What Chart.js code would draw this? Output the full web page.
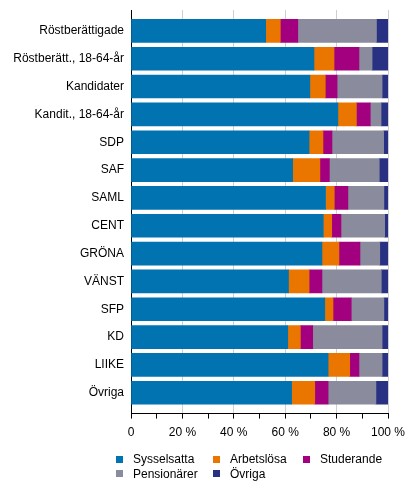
<!DOCTYPE html>
<html>
<head>
<meta charset="utf-8">
<script src="https://cdn.jsdelivr.net/npm/chart.js@4/dist/chart.umd.min.js"></script>
<style>
  html, body { margin: 0; padding: 0; background: #fff; }
  #wrap { position: relative; width: 416px; height: 491px; }
  #legend {
    position: absolute; left: 116px; top: 452px;
    display: grid; grid-template-columns: 97px 90px 90px; row-gap: 0;
    font: 12px "Liberation Sans", Arial, sans-serif; color: #000;
  }
  #legend .item { display: flex; align-items: center; height: 14.5px; }
  #legend .box { width: 7px; height: 7px; margin-right: 10px; }
</style>
</head>
<body>
<div id="wrap">
  <canvas id="grafico" width="416" height="491"></canvas>
  <div id="legend"></div>
</div>
<script>
//data
const categories = ['Röstberättigade', 'Röstberätt., 18-64-år', 'Kandidater', 'Kandit., 18-64-år',
  'SDP', 'SAF', 'SAML', 'CENT', 'GRÖNA', 'VÄNST', 'SFP', 'KD', 'LIIKE', 'Övriga'];
const sysselsatta = [52.4, 71.2, 69.6, 80.5, 69.3, 62.9, 75.7, 74.8, 74.3, 61.3, 75.4, 61.0, 76.7, 62.5];
const arbetslosa  = [5.7, 7.8, 6.0, 7.2, 5.4, 10.6, 3.4, 3.3, 6.6, 8.0, 3.2, 4.9, 8.4, 9.0];
const studerande  = [6.8, 9.7, 4.6, 5.4, 3.5, 3.7, 5.3, 3.6, 8.2, 5.0, 7.1, 4.8, 3.6, 5.2];
const pensionarer = [30.6, 5.1, 17.5, 4.2, 20.1, 19.4, 14.0, 17.0, 7.7, 23.1, 12.7, 27.0, 9.0, 18.6];
const ovriga      = [4.5, 6.2, 2.3, 2.7, 1.7, 3.4, 1.6, 1.3, 3.2, 2.6, 1.6, 2.3, 2.3, 4.7];
const xTicks = [0, 10, 20, 30, 40, 50, 60, 70, 80, 90, 100];

const font = { family: '"Liberation Sans", Arial, sans-serif', size: 12 };

function serie(label, values, color) {
  return {
    label: label,
    data: values.map((v, i) => ({ x: v, y: i })),
    backgroundColor: color,
    borderWidth: 0,
    barThickness: 23
  };
}

//setup
const dataGrafico = {
  datasets: [
    serie('Sysselsatta', sysselsatta, '#0073b0'),
    serie('Arbetslösa', arbetslosa, '#ea7600'),
    serie('Studerande', studerande, '#a3007f'),
    serie('Pensionärer', pensionarer, '#8a8b9c'),
    serie('Övriga', ovriga, '#283182')
  ]
};

//config
const config = {
  type: 'bar',
  data: dataGrafico,
  options: {
    indexAxis: 'y',
    responsive: false,
    animation: false,
    layout: { padding: { top: 10, right: 28, bottom: 44, left: 0 } },
    plugins: {
      legend: { display: false },
      tooltip: { enabled: false }
    },
    scales: {
      x: {
        stacked: true,
        min: 0,
        max: 100,
        afterBuildTicks: (s) => { s.ticks = xTicks.map(v => ({ value: v })); },
        ticks: {
          autoSkip: false,
          maxRotation: 0,
          padding: 7,
          color: '#000',
          font: font,
          callback: (v) => v % 20 === 0 ? (v === 0 ? '0' : v + ' %') : ''
        },
        grid: {
          color: (ctx) => ctx.tick && ctx.tick.value % 20 === 0 && ctx.tick.value > 0 ? '#cfcfcf' : 'rgba(0,0,0,0)',
          tickColor: '#000',
          tickLength: 5,
          lineWidth: 1
        },
        border: { display: true, color: '#000', width: 1 }
      },
      y: {
        type: 'linear',
        stacked: true,
        reverse: true,
        offset: false,
        min: -0.75,
        max: 13.75,
        afterBuildTicks: (s) => { s.ticks = categories.map((c, i) => ({ value: i })); },
        afterFit: (s) => { s.width = 131; },
        ticks: {
          autoSkip: false,
          padding: 0,
          color: '#000',
          font: font,
          callback: (v) => categories[v]
        },
        grid: { display: false, drawTicks: true, tickLength: 7 },
        border: { display: true, color: '#000', width: 1 }
      }
    }
  }
};

// render
var meuGrafico = new Chart(document.getElementById('grafico'), config);

// legend (html)
const legend = document.getElementById('legend');
meuGrafico.data.datasets.forEach(function (ds) {
  const item = document.createElement('div');
  item.className = 'item';
  const box = document.createElement('span');
  box.className = 'box';
  box.style.background = ds.backgroundColor;
  const txt = document.createElement('span');
  txt.textContent = ds.label;
  item.appendChild(box);
  item.appendChild(txt);
  legend.appendChild(item);
});
</script>
</body>
</html>
